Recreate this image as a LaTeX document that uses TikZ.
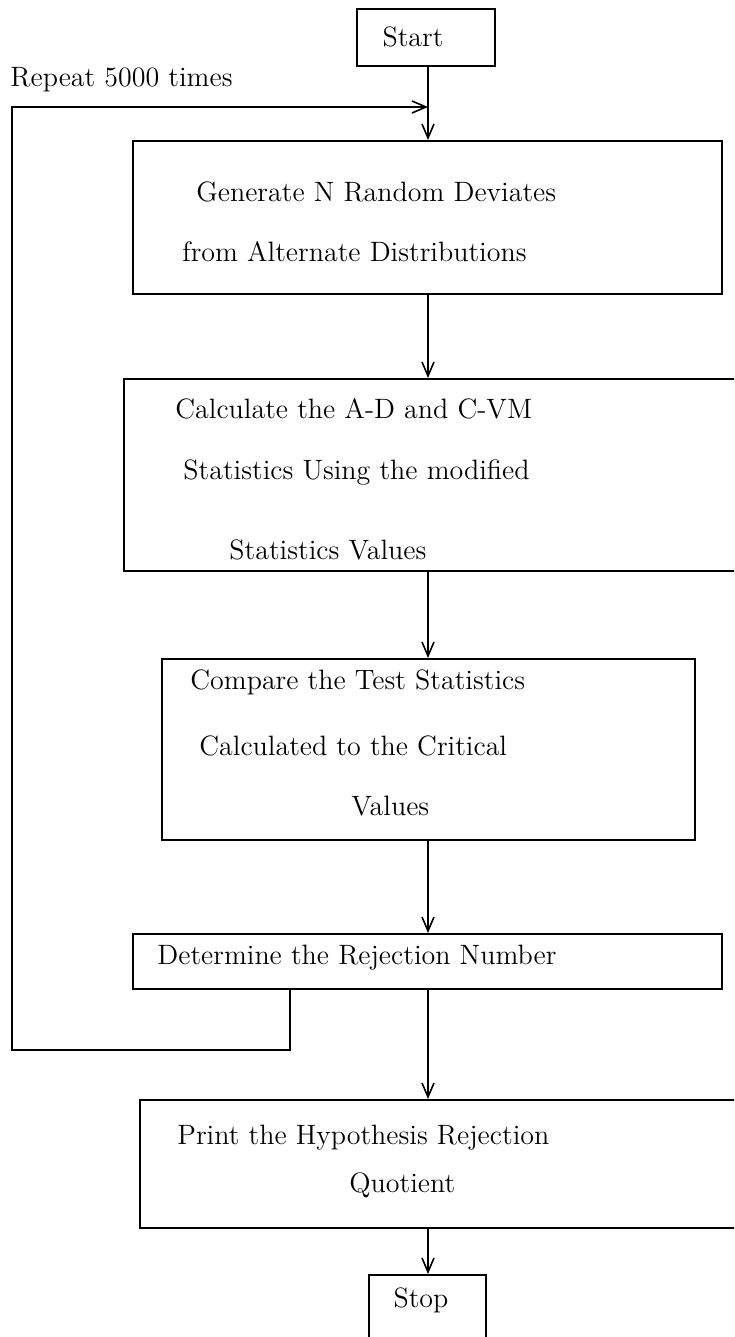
\documentclass[tikz,border=0pt]{standalone}
\usetikzlibrary{arrows.meta}

\begin{document}
\begin{tikzpicture}[x=0.5pt,y=-0.5pt,
  box/.style={draw,line width=1pt,inner sep=0pt},
  txt/.style={anchor=west,inner sep=0pt,font=\fontsize{14}{17}\selectfont},
  flow/.style={line width=0.8pt,-{Straight Barb[length=7pt,width=6pt]}}]

\useasboundingbox (0,0) rectangle (734,1337);
\clip (0,0) rectangle (734,1337);

% the boxes
\node[box,minimum width=69pt,minimum height=28.5pt] (start) at (426,37.5) {};
\node[box,minimum width=294.5pt,minimum height=76.5pt] (gen) at (427.5,217.5) {};
\node[box,minimum width=318pt,minimum height=96pt] (calc) at (442,475) {};
\node[box,minimum width=266.5pt,minimum height=90.5pt] (comp) at (428.5,749.5) {};
\node[box,minimum width=294.5pt,minimum height=27.5pt] (rej) at (427.5,961.5) {};
\node[box,minimum width=310pt,minimum height=64pt] (prn) at (450,1164) {};
\node[box,minimum width=58.5pt,minimum height=44pt] (stop) at (427.5,1319) {};

% the texts
\node[txt,anchor=center] (tstart) at (413,37) {Start};
\node[txt] (trep) at (10,80) {Repeat 5000 times};
\node[txt] (tgen1) at (196,192) {Generate N Random Deviates};
\node[txt] (tgen2) at (182,252) {from Alternate Distributions};
\node[txt] (tcalc1) at (175,409) {Calculate the A-D and C-VM};
\node[txt] (tcalc2) at (183,473) {Statistics Using the modified};
\node[txt] (tcalc3) at (229,550) {Statistics Values};
\node[txt] (tcomp1) at (190,682) {Compare the Test Statistics};
\node[txt] (tcomp2) at (199,746) {Calculated to the Critical};
\node[txt] (tcomp3) at (351,806) {Values};
\node[txt] (trej) at (157,958) {Determine the Rejection Number};
\node[txt] (tprn1) at (177,1138) {Print the Hypothesis Rejection};
\node[txt] (tprn2) at (349,1185) {Quotient};
\node[txt,anchor=center] (tstop) at (421,1300) {Stop};

% connectors
\coordinate (spine) at (428,0);
\coordinate (join) at (428,107);
\coordinate (top) at (12,107);
\coordinate (corner) at (12,1050);
\coordinate (back) at (290,1050);

\draw[flow] (start.south -| spine) -- (gen.north -| spine);
\draw[flow] (gen.south -| spine) -- (calc.north -| spine);
\draw[flow] (calc.south -| spine) -- (comp.north -| spine);
\draw[flow] (comp.south -| spine) -- (rej.north -| spine);
\draw[flow] (rej.south -| spine) -- (prn.north -| spine);
\draw[flow] (prn.south -| spine) -- (stop.north -| spine);

% repeat loop
\draw[flow] (rej.south -| back) -- (back) -- (corner) -- (top) -- (join);

\end{tikzpicture}
\end{document}
